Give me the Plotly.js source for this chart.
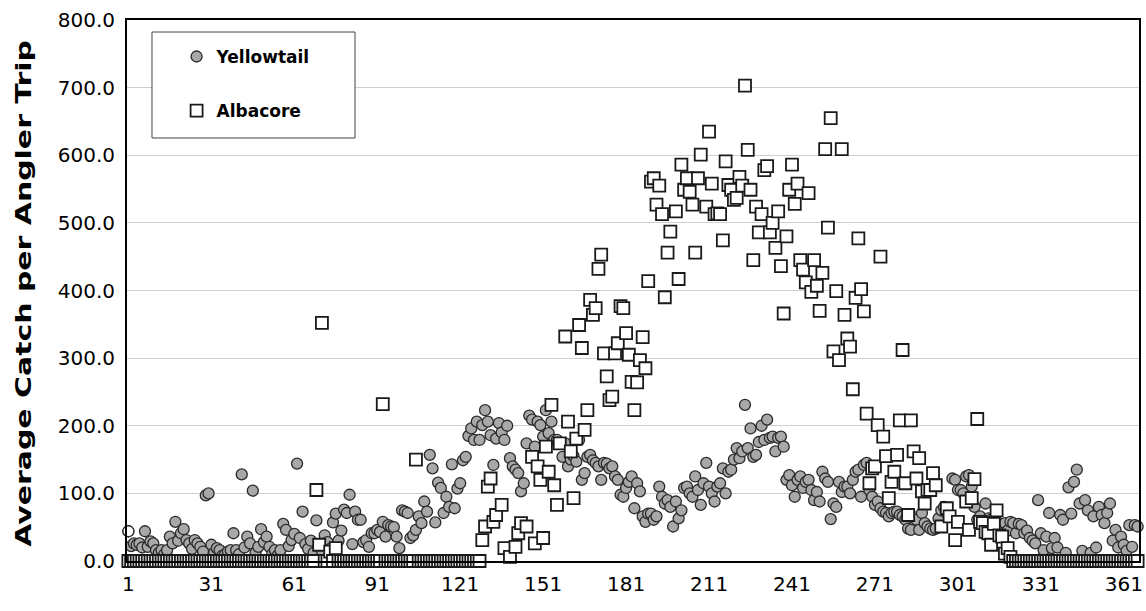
<!DOCTYPE html>
<html>
<head>
<meta charset="utf-8">
<script src="https://cdn.plot.ly/plotly-3.0.1.min.js"></script>
<style>html,body{margin:0;padding:0;background:#fff;}#chart{width:1146px;height:611px;}</style>
</head>
<body>
<div id="chart"></div>
<script>
// Day of year (category axis 1..366)
const days = Array.from({length: 366}, (_, i) => i + 1);
const tickDays = [1, 31, 61, 91, 121, 151, 181, 211, 241, 271, 301, 331, 361];
const tickLabels = ['1', '31', '61', '91', '121', '151', '181', '211', '241', '271', '301', '331', '361'];

// Average catch per angler trip — Yellowtail
const yellowtail = [
  44,22,26,24,26,20,44,21,29,26,
  16,12,16,10,16,36,26,58,30,41,
  47,31,26,18,31,26,21,14,97,100,
  24,12,19,16,8,10,14,16,41,16,
  10,128,20,36,26,104,12,21,47,28,
  36,21,10,16,8,16,55,46,22,31,
  40,144,34,73,25,18,30,12,60,22,
  15,38,28,18,57,70,30,45,76,71,
  98,25,73,61,61,28,31,21,41,41,
  46,43,58,36,53,51,50,36,19,75,
  73,71,34,38,46,66,56,88,73,157,
  137,57,116,108,71,95,80,143,78,107,
  115,149,154,185,196,179,206,179,201,223,
  206,186,142,181,204,190,179,200,152,140,
  135,130,103,115,174,215,209,169,206,201,
  184,223,189,206,179,179,174,154,174,140,
  150,155,147,179,120,130,154,157,149,145,
  140,120,145,144,137,140,125,120,98,95,
  108,117,125,78,115,103,66,58,70,70,
  61,66,110,95,85,90,80,51,88,63,
  75,108,110,100,95,125,105,83,115,145,
  110,100,88,110,115,137,100,132,135,150,
  167,152,162,231,167,196,154,157,176,200,
  179,209,182,184,162,182,184,169,120,127,
  112,95,120,125,108,117,120,105,90,102,
  88,132,122,117,62,85,80,117,102,110,
  110,100,120,132,135,95,142,145,105,95,
  83,88,78,73,71,66,71,73,73,68,
  66,61,48,46,65,61,46,71,56,51,
  48,46,48,63,75,80,71,66,122,120,
  105,105,100,125,127,110,80,61,66,58,
  85,63,61,61,58,52,48,56,45,58,
  56,41,55,53,41,45,34,30,26,90,
  41,16,36,71,19,34,20,68,61,12,
  109,70,117,135,85,15,90,75,12,66,
  20,80,68,56,71,85,30,46,20,36,
  24,15,53,21,53,51
];

// Average catch per angler trip — Albacore (null = no value shown)
const albacore = [
  0,0,0,0,0,0,0,0,0,0,
  0,0,0,0,0,0,0,0,0,0,
  0,0,0,0,0,0,0,0,0,0,
  0,0,0,0,0,0,0,0,0,0,
  0,0,0,0,0,0,0,0,0,0,
  0,0,0,0,0,0,0,0,0,0,
  0,0,0,0,0,0,0,0,105,24,
  352,0,0,14,0,19,0,0,0,0,
  0,0,0,0,0,0,0,0,0,0,
  0,0,232,0,0,0,0,0,0,0,
  0,0,0,0,150,0,0,0,0,0,
  0,0,0,0,0,0,0,0,0,0,
  0,0,0,0,0,0,0,0,31,51,
  110,122,58,68,null,83,19,null,6,null,
  21,41,56,null,51,null,154,26,140,120,
  34,169,132,231,112,83,174,null,332,206,
  162,93,181,349,315,194,223,386,364,374,
  432,453,307,273,238,243,307,322,377,374,
  337,305,265,223,264,297,331,285,414,561,
  566,527,555,513,390,456,487,null,517,417,
  586,549,566,546,527,456,566,601,null,524,
  635,558,513,514,513,474,591,556,549,534,
  537,568,555,703,608,549,445,524,486,513,
  578,584,486,500,463,517,436,366,480,549,
  586,528,558,445,431,412,544,398,445,407,
  370,426,609,493,655,310,399,297,609,364,
  329,317,254,389,477,402,369,218,115,137,
  140,201,450,184,155,93,117,132,157,208,
  312,115,68,208,162,122,152,103,85,105,
  105,130,112,null,51,null,78,66,null,31,
  58,null,null,88,46,93,121,210,58,56,
  43,41,24,55,75,38,36,11,19,6,
  0,0,0,0,0,0,0,0,0,0,
  0,0,0,0,0,0,0,0,0,0,
  0,0,0,0,0,0,0,0,0,0,
  0,0,0,0,0,0,0,0,0,0,
  0,0,0,0,0,0
];

const FONT = 'DejaVu Sans, Arial, sans-serif';

const traces = [
  {
    type: 'scatter', mode: 'markers', name: '<b>Yellowtail</b>', legendgroup: 'y',
    x: days, y: yellowtail, cliponaxis: false,
    marker: {symbol: 'circle', size: 11, color: '#a8a8a8', line: {color: '#2a2a2a', width: 1.3}}
  },
  {
    type: 'scatter', mode: 'markers', name: 'first day', showlegend: false, hoverinfo: 'skip',
    x: [days[0]], y: [yellowtail[0]], cliponaxis: false,
    marker: {symbol: 'circle', size: 11, color: '#ffffff', line: {color: '#2a2a2a', width: 1.3}}
  },
  {
    type: 'scatter', mode: 'markers', name: '<b>Albacore</b>', legendgroup: 'a',
    x: days, y: albacore, cliponaxis: false,
    marker: {symbol: 'square', size: 12, color: '#ffffff', line: {color: '#1a1a1a', width: 1.8}}
  }
];

const layout = {
  width: 1146, height: 611,
  margin: {l: 127, r: 7, t: 20, b: 50},
  paper_bgcolor: '#ffffff', plot_bgcolor: '#ffffff',
  font: {family: FONT, color: '#000000'},
  showlegend: true,
  legend: {
    x: 0.049, y: 0.965, xanchor: 'left', yanchor: 'top',
    bgcolor: 'rgba(0,0,0,0)', borderwidth: 0,
    font: {family: FONT, size: 17, color: '#000'},
    tracegroupgap: 29, itemclick: false
  },
  xaxis: {
    range: [0.5, 366.5], tickmode: 'array', tickvals: tickDays, ticktext: tickLabels,
    showgrid: false, zeroline: false, ticks: '',
    showline: true, linecolor: '#000', linewidth: 2, mirror: true,
    tickfont: {family: FONT, size: 20, color: '#000'},
    ticklabelstandoff: 4
  },
  yaxis: {
    range: [0, 800], dtick: 100, tickformat: '.1f',
    showgrid: true, gridcolor: '#cfcfcf', gridwidth: 1, zeroline: false, ticks: '',
    showline: true, linecolor: '#000', linewidth: 2, mirror: true,
    tickfont: {family: FONT, size: 20, color: '#000'},
    ticklabelstandoff: 6,
    title: {text: '<b>Average Catch per Angler Trip</b>', font: {family: FONT, size: 22, color: '#000'}, standoff: 10}
  },
  shapes: [
    {type: 'rect', xref: 'paper', yref: 'paper', layer: 'above',
     x0: 0.0247, x1: 0.2253, y0: 0.7819, y1: 0.9778,
     fillcolor: '#ffffff', line: {color: '#444', width: 1}}
  ]
};

Plotly.newPlot('chart', traces, layout, {displayModeBar: false, staticPlot: true}).then(function (gd) {
  // The reference's axis title is drawn elongated along its direction; stretch the text to match.
  const t = gd.querySelector('.ytitle');
  if (t) {
    const x = parseFloat(t.getAttribute('x'));
    const y = parseFloat(t.getAttribute('y'));
    t.setAttribute('transform',
      'translate(-10,3) rotate(-90,' + x + ',' + y + ') translate(' + x + ',' + y + ') scale(1.36,1) translate(' + (-x) + ',' + (-y) + ')');
  }
});
</script>
</body>
</html>
